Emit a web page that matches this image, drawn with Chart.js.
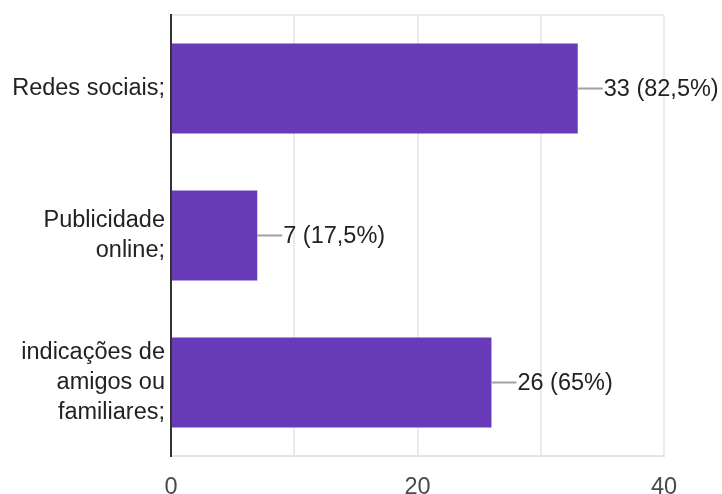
<!DOCTYPE html>
<html>
<head>
<meta charset="utf-8">
<script src="https://cdn.jsdelivr.net/npm/chart.js@4/dist/chart.umd.min.js"></script>
<style>
  html, body { margin: 0; padding: 0; background: #fff; }
  #wrap { width: 722px; height: 494px; }
</style>
</head>
<body>
<div id="wrap"><canvas id="myChart"></canvas></div>
<script>
// data
var categories = [["Redes sociais;"], ["Publicidade", "online;"], ["indicações de", "amigos ou", "familiares;"]];
var counts = [33, 7, 26];
var percents = ["82,5%", "17,5%", "65%"];
var xTicks = [0, 20, 40];

var FONT = "'Liberation Sans', Arial, sans-serif";

// leader line + value label next to each bar
var valueLabels = {
    id: 'valueLabels',
    afterDatasetsDraw: function(chart) {
        var c = chart.ctx;
        var meta = chart.getDatasetMeta(0);
        c.save();
        meta.data.forEach(function(bar, i) {
            c.strokeStyle = '#a0a0a0';
            c.lineWidth = 2;
            c.beginPath();
            c.moveTo(bar.x, bar.y);
            c.lineTo(bar.x + 25, bar.y);
            c.stroke();
            c.fillStyle = '#222';
            c.font = '23.5px ' + FONT;
            c.textBaseline = 'middle';
            c.textAlign = 'left';
            c.fillText(counts[i] + ' (' + percents[i] + ')', bar.x + 26, bar.y + 1);
        });
        c.restore();
    }
};

var ctx = document.getElementById('myChart').getContext('2d');
var chart = new Chart(ctx, {
    type: 'bar',
    data: {
        labels: categories,
        datasets: [{
            data: counts,
            backgroundColor: '#673ab7',
            borderWidth: 0,
            barPercentage: 0.612,
            categoryPercentage: 1
        }]
    },
    options: {
        indexAxis: 'y',
        responsive: true,
        maintainAspectRatio: false,
        animation: false,
        layout: { padding: { top: 15, right: 58, left: 0, bottom: 0 } },
        plugins: {
            legend: { display: false },
            tooltip: { enabled: false }
        },
        scales: {
            x: {
                min: 0,
                max: 40,
                ticks: {
                    stepSize: 10,
                    color: '#4a4a4a',
                    font: { family: FONT, size: 23.5 },
                    padding: 17,
                    maxRotation: 0,
                    callback: function(v) { return xTicks.indexOf(v) >= 0 ? String(v) : ''; }
                },
                grid: { color: '#ebebeb', lineWidth: 2, drawTicks: false },
                border: { color: '#e4e4e4', width: 2 },
                afterFit: function(s) { s.height = 38; }
            },
            y: {
                ticks: {
                    color: '#222',
                    font: { family: FONT, size: 23.5, lineHeight: 1.28 },
                    padding: 6
                },
                grid: {
                    drawTicks: false,
                    lineWidth: 2,
                    color: function(c) { return c.index === 0 ? '#ebebeb' : 'rgba(0,0,0,0)'; }
                },
                border: { color: '#333', width: 2 },
                afterFit: function(s) {
                    s.width = 171;
                    s.paddingTop = 0;
                    s.paddingBottom = 0;
                }
            }
        }
    },
    plugins: [valueLabels]
});
</script>
</body>
</html>
